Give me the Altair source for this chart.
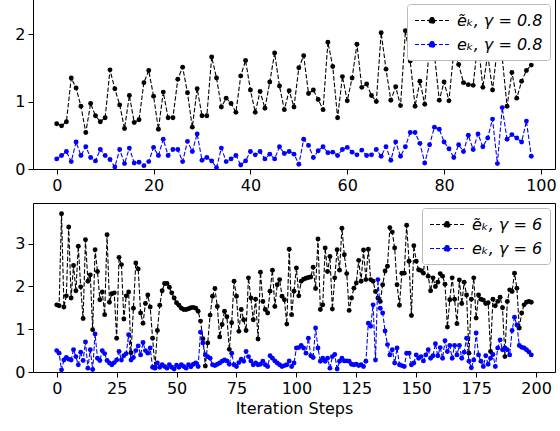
import altair as alt
import pandas as pd

# ---------------- data ----------------
top_steps = list(range(99))
top_tilde = [0.67, 0.64, 0.70, 1.35, 1.20, 0.93, 0.54, 0.97, 0.79, 0.70,
             0.76, 1.47, 1.19, 0.95, 0.60, 1.09, 0.69, 0.73, 1.28, 1.46,
             1.08, 0.59, 1.14, 0.76, 0.76, 1.33, 1.51, 1.13, 0.62, 1.19,
             0.79, 0.79, 1.66, 1.35, 0.92, 1.05, 0.97, 0.84, 1.38, 1.61,
             1.17, 0.84, 1.15, 0.90, 1.29, 1.72, 1.23, 0.88, 1.16, 0.92,
             1.50, 1.68, 1.12, 1.17, 1.03, 0.88, 1.88, 1.52, 0.76, 1.37,
             1.01, 1.35, 1.85, 1.21, 1.26, 1.09, 1.00, 2.02, 1.48, 1.02,
             1.22, 0.94, 2.05, 1.60, 0.93, 1.30, 0.96, 1.85, 1.70, 1.02,
             1.29, 1.01, 1.75, 1.55, 1.28, 1.25, 1.24, 1.90, 1.21, 1.70,
             1.17, 1.80, 1.65, 0.93, 1.43, 1.05, 1.30, 1.46, 1.54]
top_e = [0.15, 0.20, 0.26, 0.11, 0.40, 0.20, 0.33, 0.17, 0.12, 0.29,
         0.20, 0.14, 0.03, 0.29, 0.08, 0.31, 0.09, 0.10, 0.05, 0.11,
         0.32, 0.20, 0.44, 0.20, 0.29, 0.29, 0.11, 0.41, 0.26, 0.52,
         0.13, 0.17, 0.12, 0.02, 0.31, 0.11, 0.15, 0.20, 0.06, 0.12,
         0.26, 0.21, 0.26, 0.15, 0.22, 0.15, 0.33, 0.23, 0.26, 0.22,
         0.07, 0.44, 0.35, 0.17, 0.27, 0.33, 0.24, 0.25, 0.20, 0.29,
         0.32, 0.25, 0.21, 0.28, 0.20, 0.21, 0.29, 0.19, 0.33, 0.13,
         0.40, 0.19, 0.33, 0.54, 0.54, 0.38, 0.09, 0.36, 0.62, 0.59,
         0.40, 0.30, 0.17, 0.36, 0.26, 0.50, 0.29, 0.52, 0.33, 0.46,
         0.74, 0.08, 0.91, 0.44, 0.51, 0.46, 0.40, 0.71, 0.19]

bot_steps = list(range(199))
bot_tilde = [1.57, 1.55, 3.70, 1.52, 1.78, 3.39, 1.73, 2.49, 1.90, 2.94,
             1.99, 1.25, 3.09, 2.12, 2.27, 0.99, 2.86, 2.35, 1.69, 1.87,
             1.34, 3.21, 1.63, 1.83, 1.85, 0.79, 2.68, 2.51, 1.24, 1.78,
             1.87, 0.45, 1.49, 2.55, 2.41, 1.38, 1.14, 1.60, 1.80, 1.52,
             0.79, 0.10, 0.97, 1.56, 1.90, 2.07, 2.07, 1.98, 1.85, 1.73,
             1.62, 1.56, 1.49, 1.46, 1.46, 1.48, 1.50, 1.51, 1.49, 1.42,
             1.19, 0.78, 0.14, 0.68, 1.33, 1.77, 1.95, 1.53, 0.82, 1.11,
             1.42, 1.29, 0.53, 1.15, 2.12, 1.77, 0.95, 1.46, 1.22, 0.97,
             2.20, 1.73, 1.22, 1.70, 0.77, 2.33, 1.65, 1.46, 1.38, 1.89,
             2.38, 1.53, 2.04, 2.16, 1.77, 1.69, 1.12, 2.87, 1.34, 1.89,
             2.43, 1.78, 2.12, 2.17, 2.19, 2.21, 2.22, 2.45, 1.95, 3.11,
             1.46, 1.57, 2.90, 2.35, 2.70, 1.47, 2.20, 2.86, 2.38, 3.36,
             2.74, 2.30, 1.44, 1.73, 1.96, 2.08, 2.61, 2.12, 2.85, 2.16,
             2.87, 2.16, 2.12, 1.88, 1.73, 1.65, 2.04, 2.36, 2.47, 3.37,
             3.27, 2.90, 2.04, 1.56, 2.31, 2.31, 3.43, 2.59, 1.32, 2.95,
             2.59, 2.39, 2.37, 2.31, 2.88, 2.24, 1.90, 2.20, 2.00, 2.10,
             2.30, 2.24, 2.05, 1.05, 1.69, 2.20, 1.70, 1.13, 2.15, 1.60,
             2.10, 1.80, 0.44, 1.70, 2.20, 1.26, 1.80, 1.70, 1.68, 1.60,
             1.62, 0.48, 1.70, 1.55, 1.65, 1.75, 1.50, 0.36, 1.65, 1.92,
             1.88, 2.31, 1.96, 1.03, 1.38, 1.57, 1.63, 1.65, 1.63]
bot_e = [0.50, 0.44, 0.05, 0.28, 0.34, 0.30, 0.28, 0.52, 0.36, 0.17,
         0.46, 0.27, 0.70, 0.09, 0.52, 0.06, 0.89, 0.32, 0.27, 0.50,
         0.43, 0.27, 0.21, 0.17, 0.22, 0.28, 0.48, 0.28, 0.38, 0.43,
         0.87, 0.28, 0.34, 0.50, 0.61, 0.40, 0.69, 0.50, 0.44, 0.56,
         0.11, 0.09, 0.21, 0.11, 0.17, 0.13, 0.09, 0.17, 0.11, 0.07,
         0.16, 0.11, 0.17, 0.13, 0.09, 0.17, 0.12, 0.18, 0.21, 0.13,
         0.93, 0.68, 0.40, 0.36, 0.32, 0.17, 0.15, 0.18, 0.21, 0.25,
         0.28, 0.26, 0.18, 0.44, 0.17, 0.13, 0.22, 0.30, 0.25, 0.48,
         0.36, 0.26, 0.17, 0.21, 0.17, 0.18, 0.25, 0.17, 0.13, 0.38,
         0.32, 0.26, 0.21, 0.17, 0.13, 0.15, 0.17, 0.26, 0.13, 0.21,
         0.56, 0.57, 0.62, 0.56, 0.44, 0.79, 0.38, 0.34, 1.03, 0.56,
         0.25, 0.32, 0.25, 0.32, 0.09, 0.36, 0.41, 0.07, 0.25, 0.32,
         0.26, 0.26, 0.25, 0.18, 0.17, 0.18, 0.15, 0.17, 0.13, 0.25,
         1.14, 1.07, 1.57, 0.28, 2.16, 1.49, 1.38, 0.96, 0.64, 0.40,
         0.52, 0.21, 0.56, 0.17, 0.15, 0.13, 0.44, 0.44, 0.17, 0.21,
         0.40, 0.32, 0.36, 0.26, 0.40, 0.52, 0.32, 0.38, 0.66, 0.38,
         0.57, 0.32, 0.73, 0.48, 0.62, 0.32, 0.62, 0.40, 0.62, 0.32,
         0.46, 0.79, 0.25, 0.10, 0.28, 0.91, 0.40, 0.25, 0.13, 0.38,
         0.18, 0.32, 0.41, 0.13, 0.56, 0.75, 0.52, 0.56, 0.52, 0.40,
         0.97, 1.28, 1.10, 0.62, 0.58, 0.56, 0.52, 0.47, 0.40]

TOP_LABELS = ["ẽₖ, γ = 0.8", "eₖ, γ = 0.8"]
BOT_LABELS = ["ẽₖ, γ = 6", "eₖ, γ = 6"]
COLORS = ["black", "blue"]

FONT = "DejaVu Sans"
SYM = "M-1,0L3,0M1.35,0A0.35,0.35 0 1,1 0.65,0A0.35,0.35 0 1,1 1.35,0Z"


def make_legend():
    return alt.Legend(
        title=None, orient="top-right", offset=5,
        symbolType=SYM, symbolSize=289, symbolDash=[4, 2],
        symbolStrokeWidth=1.2, labelOffset=24,
        labelFontSize=16, labelFont=FONT, labelFontStyle="italic",
        labelColor="black",
        fillColor="white", strokeColor="#bbbbbb", padding=7,
        cornerRadius=3, rowPadding=6,
    )


def panel(steps, tilde, e, labels, xdom, xvals, ydom, yvals, xtitle, h):
    x = alt.X("step:Q",
              scale=alt.Scale(domain=xdom, nice=False, zero=False),
              axis=alt.Axis(values=xvals, title=xtitle, format="d"))
    y = alt.Y("val:Q",
              scale=alt.Scale(domain=ydom, nice=False, zero=False),
              axis=alt.Axis(values=yvals, title=None, format="d"))
    stroke = alt.Stroke("series:N", sort=labels,
                        scale=alt.Scale(domain=labels, range=COLORS),
                        legend=make_legend())
    fill = alt.Fill("series:N", sort=labels,
                    scale=alt.Scale(domain=labels, range=COLORS),
                    legend=make_legend())
    layers = []
    for vals, lab in zip([tilde, e], labels):
        df = pd.DataFrame({"step": steps, "val": vals, "series": lab})
        base = alt.Chart(df)
        layers.append(base.mark_line(strokeDash=[4.5, 2], strokeWidth=1.1)
                      .encode(x=x, y=y, stroke=stroke))
        layers.append(base.mark_circle(size=24, opacity=1)
                      .encode(x=x, y=y, fill=fill))
    return alt.layer(*layers).properties(width=522, height=h)


top = panel(top_steps, top_tilde, top_e, TOP_LABELS,
            [-4.9, 102.9], [0, 20, 40, 60, 80, 100],
            [0, 2.52], [0, 1, 2], None, 170)
bottom = panel(bot_steps, bot_tilde, bot_e, BOT_LABELS,
               [-9.9, 207.9], [0, 25, 50, 75, 100, 125, 150, 175, 200],
               [0, 3.95], [0, 1, 2, 3], "Iteration Steps", 169)

chart = (
    alt.vconcat(top, bottom, spacing=8)
    .resolve_scale(stroke="independent", fill="independent",
                   x="independent", y="independent")
    .resolve_legend(stroke="independent", fill="independent")
    .properties(padding={"left": 14, "top": -2, "right": 2, "bottom": 0},
                background="white")
    .configure_view(stroke="black", strokeWidth=1)
    .configure_axis(
        domain=False, grid=False, ticks=True, tickSize=5, tickColor="black",
        tickWidth=1, labelFont=FONT, labelFontSize=16, labelColor="black",
        labelPadding=3, titleFont=FONT, titleFontSize=16,
        titleFontWeight="normal", titleColor="black", titlePadding=4,
    )
)

chart.save("out.html", embed_options={"renderer": "svg", "actions": False})
